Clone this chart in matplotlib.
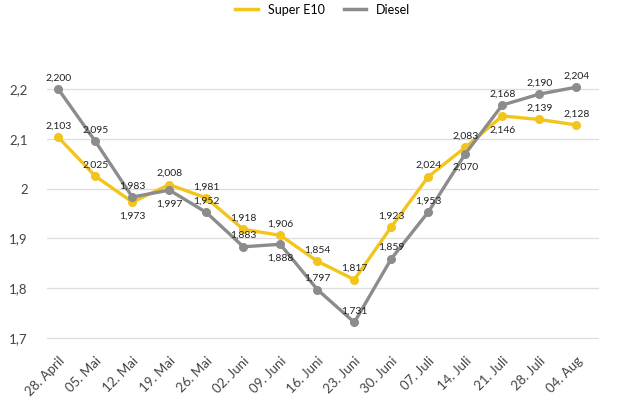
import matplotlib
matplotlib.use("Agg")
import matplotlib.pyplot as plt
from matplotlib.lines import Line2D

dates = ["28. April","05. Mai","12. Mai","19. Mai","26. Mai","02. Juni","09. Juni","16. Juni",
         "23. Juni","30. Juni","07. Juli","14. Juli","21. Juli","28. Juli","04. Aug"]
e10 = [2.103,2.025,1.973,2.008,1.981,1.918,1.906,1.854,1.817,1.923,2.024,2.083,2.146,2.139,2.128]
diesel = [2.200,2.095,1.983,1.997,1.952,1.883,1.888,1.797,1.731,1.859,1.953,2.070,2.168,2.190,2.204]
e10_below = {2, 12}
diesel_below = {3, 6, 11}

plt.rcParams['font.family'] = ['Lato', 'DejaVu Sans']
fig = plt.figure(figsize=(6.3, 4.12), dpi=100)
ax = fig.add_axes([0.075, 0.15, 0.875, 0.70])
x = list(range(len(dates)))
cy, cg = "#f2c51c", "#8c8c8c"
ax.plot(x, e10, color=cy, lw=2.4, marker='o', ms=5.5, zorder=3)
ax.plot(x, diesel, color=cg, lw=2.4, marker='o', ms=5.5, zorder=3)

def fmt(v):
    return f"{v:.3f}".replace('.', ',')
for i in x:
    for vals, below in ((e10, e10_below), (diesel, diesel_below)):
        off = -10 if i in below else 8
        ax.annotate(fmt(vals[i]), (i, vals[i]), xytext=(0, off), textcoords='offset points',
                    ha='center', va='center', fontsize=7.5, color='#222222', zorder=4)

ax.set_ylim(1.675, 2.255)
ax.set_xlim(-0.3, 14.6)
ax.set_yticks([1.7, 1.8, 1.9, 2.0, 2.1, 2.2])
ax.set_yticklabels(["1,7","1,8","1,9","2","2,1","2,2"])
ax.set_xticks(x)
ax.set_xticklabels(dates, rotation=45, ha='right', rotation_mode='anchor')
ax.tick_params(axis='both', length=0, labelsize=9.5, colors='#444444')
ax.tick_params(axis='y', pad=14)
ax.grid(axis='y', color='#dddddd', lw=0.9)
for s in ax.spines.values():
    s.set_visible(False)
handles = [Line2D([], [], color=cy, lw=2.5), Line2D([], [], color=cg, lw=2.5)]
ax.legend(handles, ["Super E10", "Diesel"], loc='upper center', bbox_to_anchor=(0.5, 1.24),
          ncol=2, frameon=False, fontsize=9, handlelength=1.8, columnspacing=1.5)
fig.savefig("out.png", dpi=100)
